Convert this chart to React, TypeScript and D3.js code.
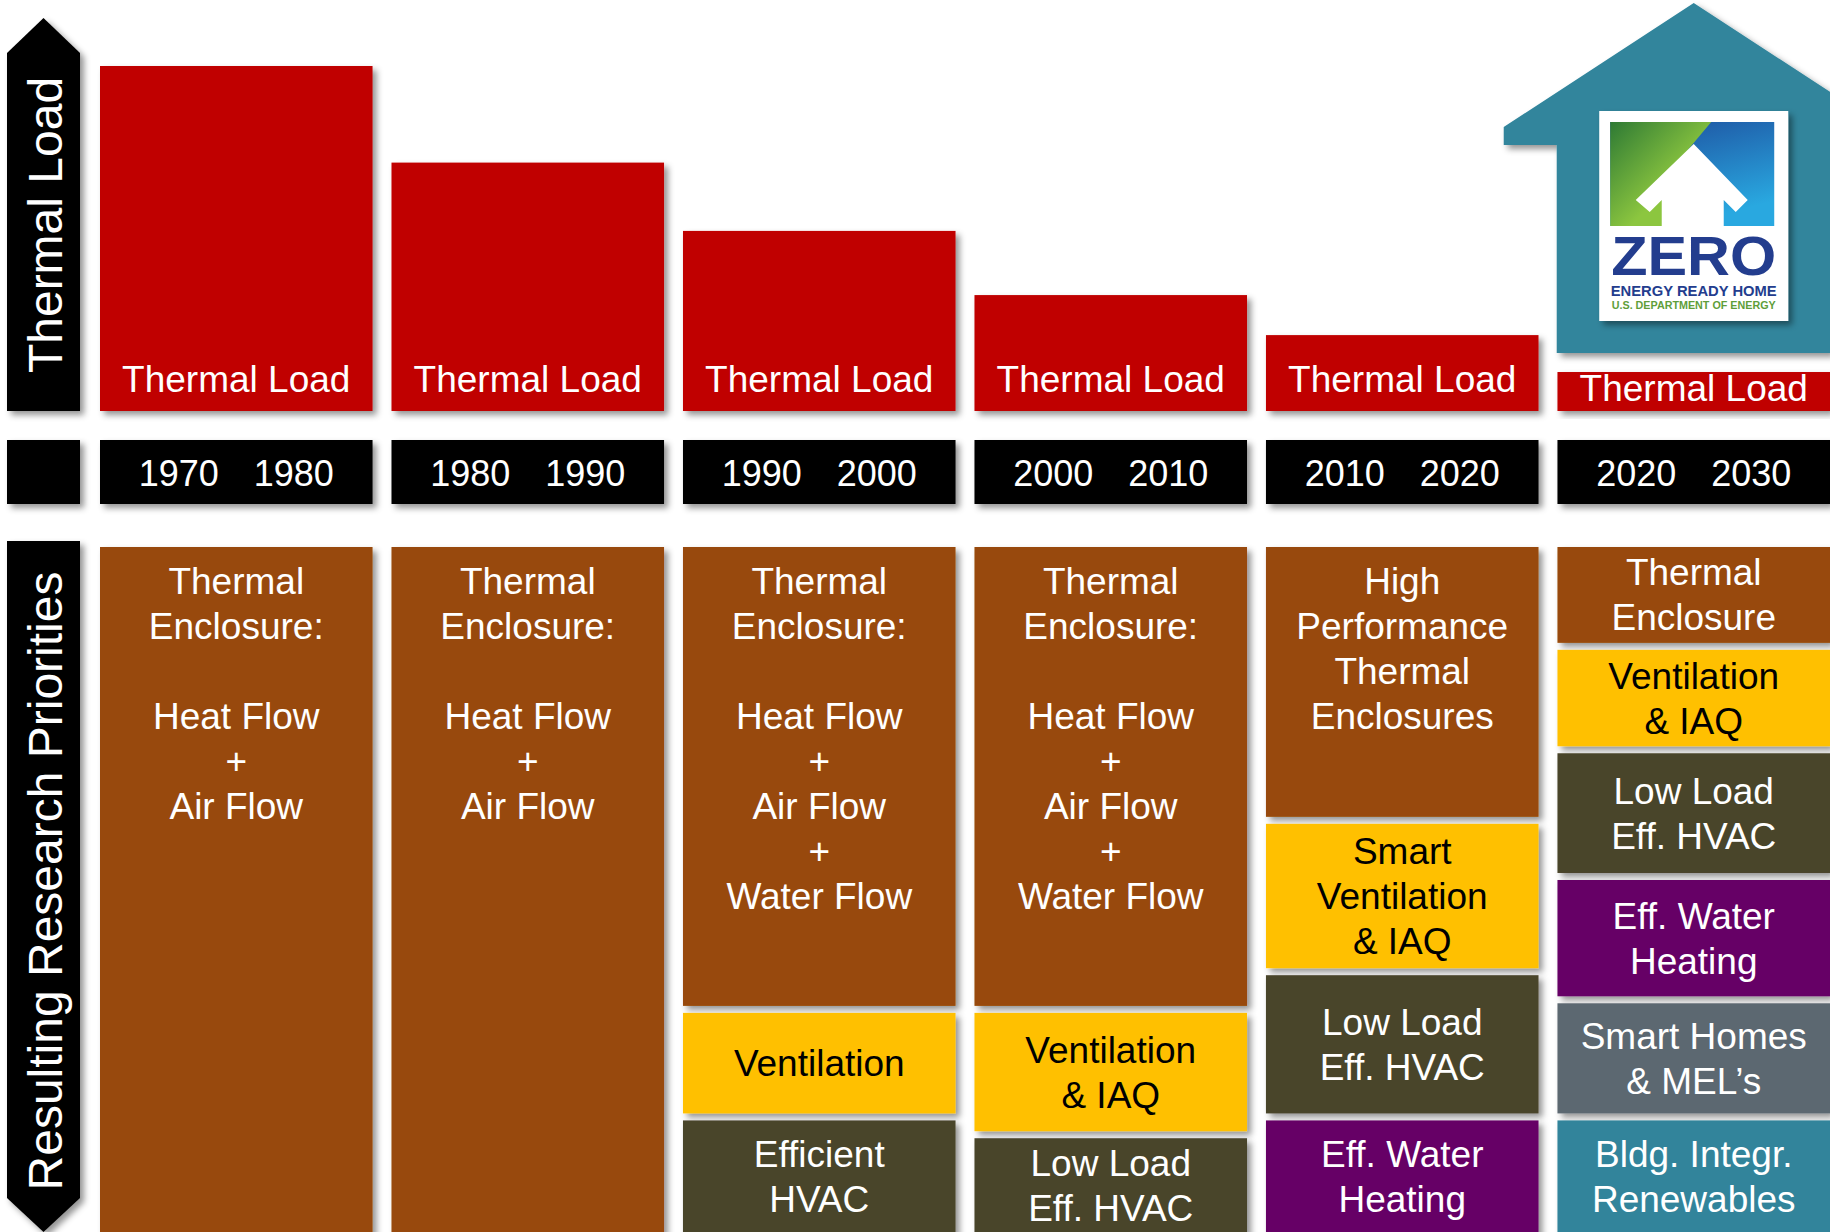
import React from "react";
import * as d3 from "d3";

// decades shown across the chart
const decades = ["1970s", "1980s", "1990s", "2000s", "2010s", "2020s"];
const yearFrom = ["1970", "1980", "1990", "2000", "2010", "2020"];
const yearTo = ["1980", "1990", "2000", "2010", "2020", "2030"];

// relative thermal load per decade (1970s = 100)
const thermalLoad = [100, 72, 52.2, 33.6, 22, 11.3];
const loadLabel = "Thermal Load";

// research priority kinds and their colours
const kinds = ["enclosure", "ventilation", "hvac", "water", "smart", "renewables"];
const kindColors = ["#984807", "#FFC000", "#4A442B", "#660066", "#5C6871", "#31849B"];
const kindText = ["#FFFFFF", "#000000", "#FFFFFF", "#FFFFFF", "#FFFFFF", "#FFFFFF"];

// priorities per decade, top to bottom, share = % of the column height
const p1970 = [
  { kind: "enclosure", share: 100, lines: ["Thermal", "Enclosure:", "", "Heat Flow", "+", "Air Flow"] },
];
const p1980 = [
  { kind: "enclosure", share: 100, lines: ["Thermal", "Enclosure:", "", "Heat Flow", "+", "Air Flow"] },
];
const p1990 = [
  { kind: "enclosure", share: 67.5, lines: ["Thermal", "Enclosure:", "", "Heat Flow", "+", "Air Flow", "+", "Water Flow"] },
  { kind: "ventilation", share: 15.7, lines: ["Ventilation"] },
  { kind: "hvac", share: 16.8, lines: ["Efficient", "HVAC"] },
];
const p2000 = [
  { kind: "enclosure", share: 67.5, lines: ["Thermal", "Enclosure:", "", "Heat Flow", "+", "Air Flow", "+", "Water Flow"] },
  { kind: "ventilation", share: 18.3, lines: ["Ventilation", "& IAQ"] },
  { kind: "hvac", share: 14.2, lines: ["Low Load", "Eff. HVAC"] },
];
const p2010 = [
  { kind: "enclosure", share: 39.9, lines: ["High", "Performance", "Thermal", "Enclosures"] },
  { kind: "ventilation", share: 22.1, lines: ["Smart", "Ventilation", "& IAQ"] },
  { kind: "hvac", share: 21.2, lines: ["Low Load", "Eff. HVAC"] },
  { kind: "water", share: 16.8, lines: ["Eff. Water", "Heating"] },
];
const p2020 = [
  { kind: "enclosure", share: 14.5, lines: ["Thermal", "Enclosure"] },
  { kind: "ventilation", share: 15.1, lines: ["Ventilation", "& IAQ"] },
  { kind: "hvac", share: 18.5, lines: ["Low Load", "Eff. HVAC"] },
  { kind: "water", share: 18.0, lines: ["Eff. Water", "Heating"] },
  { kind: "smart", share: 17.1, lines: ["Smart Homes", "& MEL\u2019s"] },
  { kind: "renewables", share: 16.8, lines: ["Bldg. Integr.", "Renewables"] },
];
const priorities = [p1970, p1980, p1990, p2000, p2010, p2020];

const W = 1830;
const H = 1232;
const FONT = "'Liberation Sans', Arial, Helvetica, sans-serif";
const FS = 37;
const LH = 45;

const x = d3.scaleBand().domain(decades).range([100, 1830]).paddingInner(0.065).paddingOuter(0);
const yLoad = d3.scaleLinear().domain([0, 100]).range([411, 66]);
const yPri = d3.scaleLinear().domain([0, 100]).range([547, 1232]);
const fill = d3.scaleOrdinal<string, string>().domain(kinds).range(kindColors);
const ink = d3.scaleOrdinal<string, string>().domain(kinds).range(kindText);

const GAP = 3.5;

export default function App() {
  const bw = x.bandwidth();

  // house outline around the 2020s column
  const hx = x("2020s")! + bw / 2;
  const house = [
    [hx - 190, 127], [hx, 3], [hx + 190, 127], [hx + 190, 145], [hx + 137, 145],
    [hx + 137, 353], [hx - 137, 353], [hx - 137, 145], [hx - 190, 145],
  ];
  const lx = hx - 94.5;
  const arrowHouse = [
    [hx, 144], [hx + 54, 200], [hx + 42, 212], [hx + 30, 200], [hx + 30, 227],
    [hx - 32, 227], [hx - 32, 200], [hx - 44, 212], [hx - 58, 200],
  ];

  return (
    <svg width={W} height={H} style={{ position: "absolute", left: 0, top: 0, background: "#fff" }} fontFamily={FONT}>
      <defs>
        <filter id="sh" x="-20%" y="-20%" width="140%" height="140%">
          <feDropShadow dx="4" dy="4" stdDeviation="3" floodColor="#000" floodOpacity="0.42" />
        </filter>
        <linearGradient id="gGreen" x1="0" y1="0" x2="1" y2="1">
          <stop offset="0" stopColor="#2E7A34" />
          <stop offset="0.6" stopColor="#8CC63F" />
        </linearGradient>
        <linearGradient id="gBlue" x1="0" y1="0" x2="0.4" y2="1">
          <stop offset="0" stopColor="#1D4C9C" />
          <stop offset="1" stopColor="#29A8E0" />
        </linearGradient>
      </defs>

      {/* house */}
      <g filter="url(#sh)">
        <polygon points={house.map((p) => p.join(",")).join(" ")} fill="#31859C" />
      </g>
      <g filter="url(#sh)">
        <rect x={lx} y={111} width={189} height={210} fill="#fff" />
      </g>
      <rect x={lx + 11} y={122} width={164} height={104} fill="url(#gBlue)" />
      <polygon
        points={`${lx + 11},122 ${lx + 112},122 ${hx - 6},150 ${hx - 6},226 ${lx + 11},226`}
        fill="url(#gGreen)"
      />
      <polygon points={arrowHouse.map((p) => p.join(",")).join(" ")} fill="#fff" />
      <text x={hx} y={275} textAnchor="middle" fontSize={56} fontWeight="bold" fill="#233D8E"
        textLength={165} lengthAdjust="spacingAndGlyphs">ZERO</text>
      <text x={hx} y={296} textAnchor="middle" fontSize={14} fontWeight="bold" fill="#233D8E"
        textLength={166} lengthAdjust="spacingAndGlyphs">ENERGY READY HOME</text>
      <text x={hx} y={309} textAnchor="middle" fontSize={10} fontWeight="bold" fill="#5E9E3A"
        textLength={164} lengthAdjust="spacingAndGlyphs">U.S. DEPARTMENT OF ENERGY</text>

      {/* left arrows */}
      <g filter="url(#sh)">
        <polygon points="7,53 43.5,18 80,53 80,411 7,411" fill="#000" />
        <rect x={7} y={440} width={73} height={64} fill="#000" />
        <polygon points="7,541 80,541 80,1198 43.5,1232 7,1198" fill="#000" />
      </g>
      <text transform="translate(62,225) rotate(-90)" textAnchor="middle" fontSize={48} fill="#fff">
        Thermal Load
      </text>
      <text transform="translate(62,881) rotate(-90)" textAnchor="middle" fontSize={48} fill="#fff">
        Resulting Research Priorities
      </text>

      {/* thermal load bars and year labels */}
      {decades.map((d, i) => {
        const x0 = x(d)!;
        const top = yLoad(thermalLoad[i]);
        const base = yLoad(0);
        const ty = Math.max(base - 19, top + 29);
        return (
          <g key={d}>
            <rect x={x0} y={top} width={bw} height={base - top} fill="#C00000" filter="url(#sh)" />
            <text x={x0 + bw / 2} y={ty} textAnchor="middle" fontSize={FS} fill="#fff">{loadLabel}</text>
            <rect x={x0} y={440} width={bw} height={64} fill="#000" filter="url(#sh)" />
            <text x={x0 + bw / 2 - 57.5} y={486} textAnchor="middle" fontSize={36} fill="#fff">{yearFrom[i]}</text>
            <text x={x0 + bw / 2 + 57.5} y={486} textAnchor="middle" fontSize={36} fill="#fff">{yearTo[i]}</text>
          </g>
        );
      })}

      {/* research priority blocks */}
      {decades.map((d, i) => {
        const x0 = x(d)!;
        const col = priorities[i];
        const ends = d3.cumsum(col, (b) => b.share);
        return (
          <g key={"p" + d}>
            {col.map((b, j) => {
              const s = j === 0 ? 0 : ends[j - 1];
              const e = ends[j];
              const top = yPri(s) + (j === 0 ? 0 : GAP);
              const bot = j === col.length - 1 ? H + 20 : yPri(e) - GAP;
              const visBot = Math.min(bot, H);
              const n = b.lines.length;
              const topAligned = j === 0 && n > 2;
              const y0 = topAligned ? top + 47 : (top + visBot) / 2 - ((n - 1) / 2) * LH + 13;
              return (
                <g key={j}>
                  <rect x={x0} y={top} width={bw} height={bot - top} fill={fill(b.kind)} filter="url(#sh)" />
                  {b.lines.map((t, k) => (
                    <text key={k} x={x0 + bw / 2} y={y0 + k * LH} textAnchor="middle" fontSize={FS} fill={ink(b.kind)}>
                      {t}
                    </text>
                  ))}
                </g>
              );
            })}
          </g>
        );
      })}
    </svg>
  );
}
